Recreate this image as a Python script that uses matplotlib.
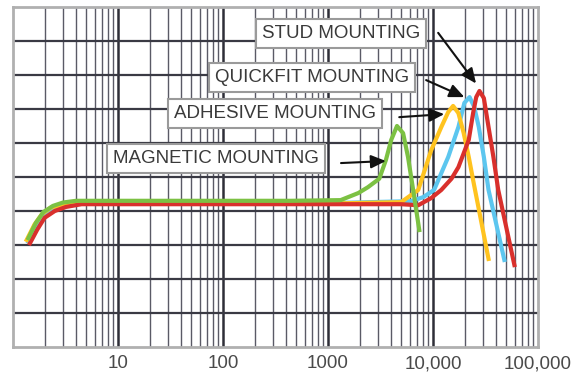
import matplotlib
matplotlib.use("Agg")
import matplotlib.pyplot as plt

# Frequency response curves for four accelerometer mounting methods
freq_stud = [1.45, 1.7, 2.0, 2.5, 3.2, 4.5, 1000, 4970, 7240, 9620, 12000, 15000,
             17460, 21900, 24100, 25800, 27700, 30500, 33800, 37600, 41800, 59600]
resp_stud = [3.05, 3.45, 3.8, 4.0, 4.12, 4.2, 4.2, 4.2, 4.17, 4.38, 4.62, 4.95,
             5.29, 6.09, 6.88, 7.35, 7.53, 7.32, 6.47, 5.59, 4.62, 2.41]

freq_quick = [1.4, 1.65, 1.95, 2.4, 3.0, 4.2, 1000, 6200, 8100, 10240, 13970,
              17460, 19900, 22300, 24700, 27300, 30500, 33800, 47800]
resp_quick = [3.1, 3.55, 3.88, 4.08, 4.18, 4.23, 4.23, 4.29, 4.41, 4.62, 5.59,
              6.47, 7.18, 7.35, 7.06, 6.47, 5.59, 4.62, 2.56]

freq_adh = [1.35, 1.6, 1.9, 2.3, 3.0, 4.0, 1000, 4970, 7240, 9620, 12000, 13970,
            15540, 17460, 19600, 21900, 24100, 33800]
resp_adh = [3.15, 3.6, 3.92, 4.1, 4.2, 4.22, 4.22, 4.26, 4.62, 5.79, 6.47, 6.91,
            7.09, 6.88, 6.29, 5.59, 4.91, 2.59]

freq_mag = [1.4, 1.65, 1.95, 2.4, 3.0, 4.0, 445, 1320, 1950, 2400, 3080, 3560,
            4000, 4540, 5190, 5780, 6470, 7400]
resp_mag = [3.2, 3.65, 3.97, 4.15, 4.25, 4.3, 4.3, 4.32, 4.53, 4.7, 4.95, 5.5,
            6.09, 6.5, 6.29, 5.59, 4.62, 3.44]

tick_values = [10, 100, 1000, 10000, 100000]
tick_labels = ["10", "100", "1000", "10,000", "100,000"]

# label text, box centre (freq, level), arrow tail, arrow head
labels = ["STUD MOUNTING", "QUICKFIT MOUNTING", "ADHESIVE MOUNTING", "MAGNETIC MOUNTING"]
label_pos = [(1320, 9.22), (709, 7.93), (314, 6.88), (86, 5.53)]
arrow_tail = [(11200, 9.24), (8600, 7.85), (4770, 6.76), (1330, 5.41)]
arrow_head = [(25700, 7.75), (19900, 7.35), (12800, 6.85), (3560, 5.47)]

RED = "#d9302c"
BLUE = "#5cc6ef"
YELLOW = "#ffc31f"
GREEN = "#7cc143"

fig = plt.figure(figsize=(5.84, 3.79), dpi=100, facecolor="white")
ax = fig.add_axes([13 / 584, 1 - 347 / 379, 525 / 584, 340 / 379])
ax.set_xscale("log")
ax.set_xlim(1, 100000)
ax.set_ylim(0, 10)

# graph-paper grid
for dec in range(5):
    base = 10 ** dec
    for m in range(2, 10):
        ax.axvline(base * m, color="#5a5a66", lw=1.0, zorder=1)
    if dec > 0:
        ax.axvline(base, color="#2e2e38", lw=1.8, zorder=1)
for lvl in range(1, 10):
    ax.axhline(lvl, color="#3a3a44", lw=1.6, zorder=1)

for s in ax.spines.values():
    s.set_color("#b0b0b0")
    s.set_linewidth(2)

lw = 3.0
ax.plot(freq_quick, resp_quick, color=BLUE, lw=lw, zorder=3, solid_joinstyle="round")
ax.plot(freq_adh, resp_adh, color=YELLOW, lw=lw, zorder=3, solid_joinstyle="round")
ax.plot(freq_stud, resp_stud, color=RED, lw=lw, zorder=3, solid_joinstyle="round")
ax.plot(freq_mag, resp_mag, color=GREEN, lw=lw, zorder=3, solid_joinstyle="round")

for txt, pos, tail, head in zip(labels, label_pos, arrow_tail, arrow_head):
    ax.text(pos[0], pos[1], txt, ha="center", va="center", fontsize=13.5,
            family="Liberation Sans", color="#3a3a3a", zorder=5,
            bbox=dict(boxstyle="square,pad=0.32", facecolor="white",
                      edgecolor="#9a9a9a", linewidth=1.5))
    ax.annotate("", xy=head, xytext=tail, zorder=6,
                arrowprops=dict(arrowstyle="-|>,head_length=0.9,head_width=0.4",
                                color="#111111", lw=1.5, shrinkA=0, shrinkB=0))

ax.set_yticks([])
ax.set_xticks(tick_values)
ax.set_xticklabels(tick_labels, family="Liberation Sans", fontsize=13.5, color="#4a4a4a")
ax.xaxis.set_minor_locator(matplotlib.ticker.NullLocator())
ax.tick_params(axis="x", length=0, pad=6)

fig.savefig("out.png", dpi=100, facecolor="white")
